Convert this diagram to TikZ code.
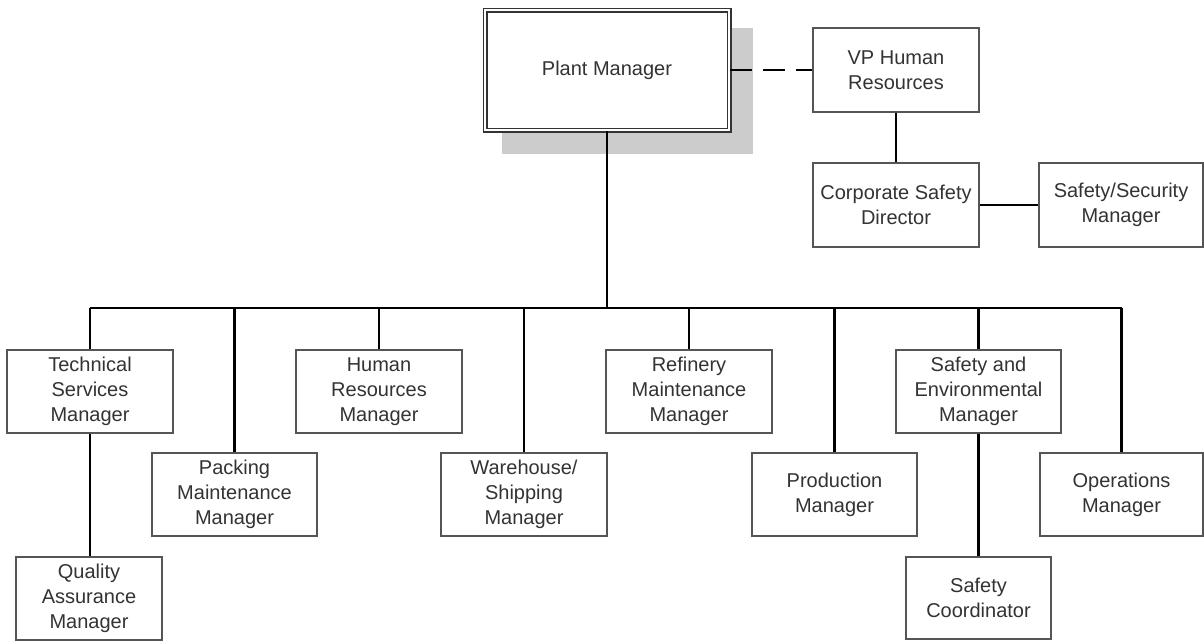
\documentclass[tikz,border=0pt]{standalone}
\usepackage{fontspec}
\setmainfont{Liberation Sans}
\definecolor{txt}{HTML}{333333}
\definecolor{boxline}{HTML}{555555}
\definecolor{shadowgray}{HTML}{CCCCCC}
\begin{document}
\begin{tikzpicture}[x=1pt,y=-1pt,
  orgbox/.style={draw=boxline, line width=1.5pt, fill=white, inner sep=0pt,
    minimum width=166pt, minimum height=83pt, align=center, text=txt,
    font=\fontsize{20}{25}\selectfont},
  link/.style={draw=black, line width=2.5pt},
  dashlink/.style={draw=black, line width=2.5pt, dash pattern=on 22pt off 11pt}]
\useasboundingbox (0,0) rectangle (1204,641);
% shadow of plant manager
\fill[shadowgray] (502,28) rectangle (753,154);
\node[orgbox, draw=txt, double=white, double distance=2pt, line width=1.5pt,
  minimum width=244pt, minimum height=120pt] (pm) at (607,70) {Plant Manager};
\node[orgbox, minimum height=84pt] (vp) at (896,70) {VP Human\\Resources};
\node[orgbox, minimum height=84pt] (csd) at (896,205) {Corporate Safety\\Director};
\node[orgbox, minimum width=164pt, minimum height=84pt] (ssm) at (1121,205) {Safety/Security\\Manager};
\node[orgbox] (tsm) at (90,391.5) {Technical\\Services\\Manager};
\node[orgbox, minimum width=165pt] (pmm) at (234.5,494.5) {Packing\\Maintenance\\Manager};
\node[orgbox] (hrm) at (379,391.5) {Human\\Resources\\Manager};
\node[orgbox] (wsm) at (524,494.5) {Warehouse/\\Shipping\\Manager};
\node[orgbox] (rmm) at (689,391.5) {Refinery\\Maintenance\\Manager};
\node[orgbox, minimum width=165pt] (prm) at (834.5,494.5) {Production\\Manager};
\node[orgbox, minimum width=165pt] (sem) at (978.5,391.5) {Safety and\\Environmental\\Manager};
\node[orgbox, minimum width=163pt] (opm) at (1121.5,494.5) {Operations\\Manager};
\node[orgbox, minimum width=146pt] (qam) at (89,598.5) {Quality\\Assurance\\Manager};
\node[orgbox, minimum width=145pt, minimum height=82pt] (sc) at (978.5,598) {Safety\\Coordinator};
\coordinate (busy) at (0,308);
% connectors
\draw[dashlink] (pm.east) -- (vp.west);
\draw[link] (vp.south) -- (csd.north);
\draw[link] (csd.east) -- (ssm.west);
\draw[link] (pm.south) -- (pm.south |- busy);
\draw[link] (tsm.north |- busy) -- (opm.north |- busy);
\foreach \c in {tsm,pmm,hrm,wsm,rmm,prm,sem,opm}
  \draw[link] (\c.north) -- (\c.north |- busy);
\draw[link] (tsm.south) -- (tsm.south |- qam.north);
\draw[link] (sem.south) -- (sem.south |- sc.north);
\end{tikzpicture}
\end{document}
